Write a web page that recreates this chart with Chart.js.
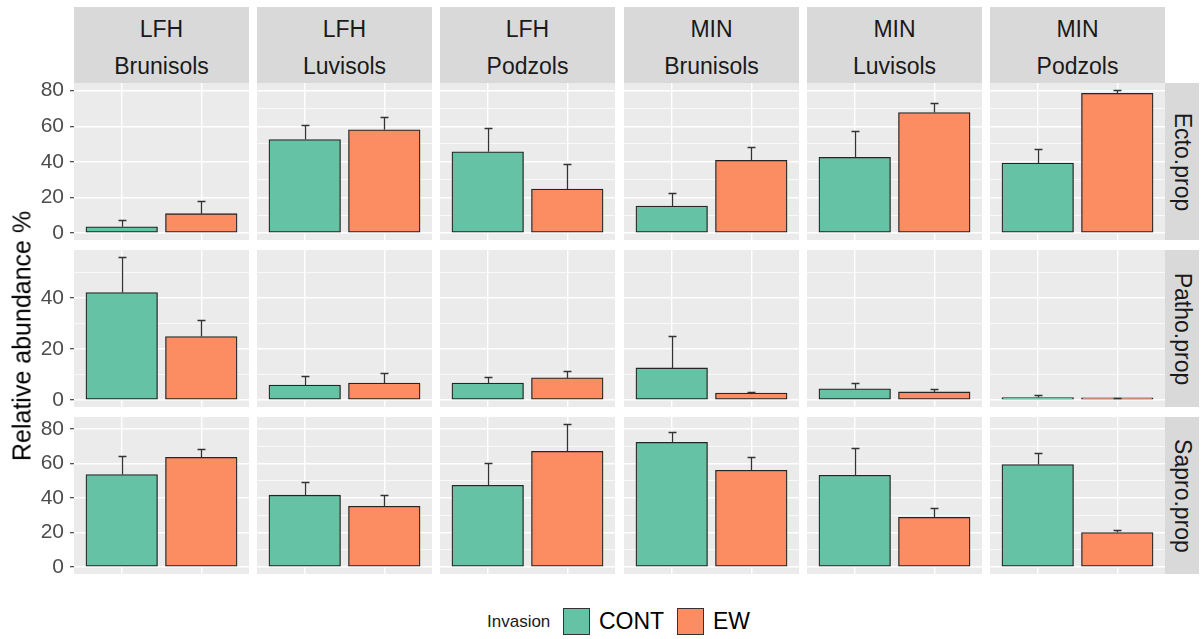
<!DOCTYPE html>
<html>
<head>
<meta charset="utf-8">
<script src="https://cdn.jsdelivr.net/npm/chart.js@4/dist/chart.umd.min.js"></script>
<style>
  body { margin: 0; width: 1201px; height: 639px; overflow: hidden; position: relative; background: #fff;
         font-family: "Liberation Sans", Arial, sans-serif; }
  .abs { position: absolute; }
  .strip { position: absolute; background: #d9d9d9; color: #1a1a1a; font-size: 23px; }
  .strip .ln { position: absolute; left: 0; right: 0; height: 36px; line-height: 36px; text-align: center; white-space: nowrap; }
  .rot { position: absolute; left: 50%; top: 50%; white-space: nowrap; transform: translate(-50%, -50%) rotate(90deg); }
  .key { position: absolute; width: 25px; height: 25px; border: 1px solid #333; }
</style>
</head>
<body>
<script>
// ── data ──
const horizons = ["LFH", "LFH", "LFH", "MIN", "MIN", "MIN"];
const soils = ["Brunisols", "Luvisols", "Podzols", "Brunisols", "Luvisols", "Podzols"];
const guilds = ["Ecto.prop", "Patho.prop", "Sapro.prop"];
const invasion = ["CONT", "EW"];

// bar heights (mean) and top of the error bar (mean + se), one value per soil panel
const ectoCont = [3.4, 52.5, 45.6, 15.1, 42.5, 39.3];
const ectoContTop = [7.0, 60.5, 59.2, 22.5, 57.1, 46.9];
const ectoEw = [10.8, 58.0, 24.7, 40.8, 67.7, 78.5];
const ectoEwTop = [18.0, 65.0, 38.5, 48.2, 73.3, 80.2];

const pathoCont = [42.0, 5.8, 6.6, 12.5, 4.3, 0.9];
const pathoContTop = [55.8, 9.3, 9.0, 24.9, 6.6, 1.9];
const pathoEw = [24.8, 6.6, 8.6, 2.7, 3.1, 0.3];
const pathoEwTop = [31.2, 10.5, 11.3, 3.1, 4.3, 0.6];

const saproCont = [53.6, 41.6, 47.4, 72.3, 53.2, 59.4];
const saproContTop = [64.3, 49.1, 60.1, 78.1, 68.8, 65.9];
const saproEw = [63.6, 35.2, 67.1, 56.1, 28.8, 19.9];
const saproEwTop = [68.6, 41.6, 82.7, 63.6, 34.0, 21.4];

// y axis per row (free scales)
const yMin = [-4.0, -2.8, -4.15];
const yMax = [84.3, 58.7, 87.0];
const yTicksEcto = [0, 20, 40, 60, 80];
const yTicksPatho = [0, 20, 40];
const yTicksSapro = [0, 20, 40, 60, 80];
const yMinorEcto = [10, 30, 50, 70];
const yMinorPatho = [10, 30, 50];
const yMinorSapro = [10, 30, 50, 70];

// ── layout ──
const colors = ["#66C2A5", "#FC8D62"];
const FONT = '"Liberation Sans", Arial, sans-serif';
const panelLeft = [74, 257, 440, 624, 807, 990];
const panelTop = [83, 250, 417];
const PW = 175, PH = 157, AXIS_W = 40, MARGIN = 12;
const X_MIN = 0.4, X_MAX = 2.6, BAR_W = 0.9;

const rows = [
  { cont: ectoCont, contTop: ectoContTop, ew: ectoEw, ewTop: ectoEwTop, ticks: yTicksEcto, minor: yMinorEcto },
  { cont: pathoCont, contTop: pathoContTop, ew: pathoEw, ewTop: pathoEwTop, ticks: yTicksPatho, minor: yMinorPatho },
  { cont: saproCont, contTop: saproContTop, ew: saproEw, ewTop: saproEwTop, ticks: yTicksSapro, minor: yMinorSapro },
];

// grey panel background
const panelBg = {
  id: "panelBg",
  beforeDraw(chart) {
    const a = chart.chartArea;
    chart.ctx.save();
    chart.ctx.fillStyle = "#EBEBEB";
    chart.ctx.fillRect(a.left, a.top, a.right - a.left, a.bottom - a.top);
    chart.ctx.restore();
  },
};

// upper error bars, drawn through the chart scales
const errBars = {
  id: "errBars",
  afterDatasetsDraw(chart, args, opts) {
    const { ctx } = chart;
    const x = chart.scales.x, y = chart.scales.y;
    const hw = x.getPixelForValue(1.05) - x.getPixelForValue(1);
    ctx.save();
    ctx.strokeStyle = "#333";
    ctx.lineWidth = 1.3;
    opts.means.forEach((m, i) => {
      const px = Math.round(x.getPixelForValue(i + 1)) + 0.5;
      const y0 = y.getPixelForValue(m);
      const y1 = Math.round(y.getPixelForValue(opts.tops[i])) + 0.5;
      ctx.beginPath();
      ctx.moveTo(px, y0);
      ctx.lineTo(px, y1);
      ctx.moveTo(px - hw, y1);
      ctx.lineTo(px + hw, y1);
      ctx.stroke();
    });
    ctx.restore();
  },
};

function addDiv(cls, style, html) {
  const d = document.createElement("div");
  d.className = cls;
  Object.assign(d.style, style);
  if (html !== undefined) d.innerHTML = html;
  document.body.appendChild(d);
  return d;
}

function makePanel(r, c) {
  const row = rows[r];
  const left = c === 0;
  const cv = document.createElement("canvas");
  const w = PW + (left ? AXIS_W : 0);
  const h = PH + 2 * MARGIN;
  cv.width = w;
  cv.height = h;
  cv.style.position = "absolute";
  cv.style.left = (panelLeft[c] - (left ? AXIS_W : 0)) + "px";
  cv.style.top = (panelTop[r] - MARGIN) + "px";
  cv.style.width = w + "px";
  cv.style.height = h + "px";
  document.body.appendChild(cv);

  const grid = [...row.ticks, ...row.minor].sort((a, b) => a - b);
  const isMajor = (v) => row.ticks.includes(v);

  new Chart(cv, {
    type: "bar",
    data: {
      datasets: [{
        data: [{ x: 1, y: row.cont[c] }, { x: 2, y: row.ew[c] }],
        backgroundColor: colors,
        borderColor: "#262626",
        borderWidth: 1.3,
        borderSkipped: false,
        minBarLength: 2,
        // bar width of 0.9 x-units, like geom_bar
        barThickness: BAR_W * PW / (X_MAX - X_MIN),
      }],
    },
    options: {
      responsive: false,
      animation: false,
      events: [],
      layout: { padding: { top: MARGIN, bottom: MARGIN, left: 0, right: 0 } },
      plugins: {
        legend: { display: false },
        tooltip: { enabled: false },
        errBars: { means: [row.cont[c], row.ew[c]], tops: [row.contTop[c], row.ewTop[c]] },
      },
      scales: {
        x: {
          type: "linear",
          min: X_MIN,
          max: X_MAX,
          offset: false,
          afterBuildTicks: (s) => { s.ticks = [{ value: 1 }, { value: 2 }]; },
          ticks: { display: false },
          grid: { color: "#ffffff", lineWidth: 1.4, drawTicks: false, offset: false },
          border: { display: false },
        },
        y: {
          min: yMin[r],
          max: yMax[r],
          afterBuildTicks: (s) => { s.ticks = grid.map((v) => ({ value: v })); },
          afterFit: (s) => {
            s.width = left ? AXIS_W : 0;
            s.paddingTop = 0; s.paddingBottom = 0;
          },
          ticks: {
            display: left,
            padding: 6,
            color: "#4D4D4D",
            font: { family: FONT, size: 21 },
            callback: (v) => (isMajor(v) ? v : ""),
          },
          grid: {
            color: "#ffffff",
            lineWidth: (ctx) => (ctx.tick && isMajor(ctx.tick.value) ? 1.4 : 0.7),
            drawTicks: left,
            tickLength: 4,
            tickWidth: 1.1,
            tickColor: (ctx) => (ctx.tick && isMajor(ctx.tick.value) ? "#333333" : "rgba(0,0,0,0)"),
          },
          border: { display: false },
        },
      },
    },
    plugins: [panelBg, errBars],
  });
}

// top strips
for (let c = 0; c < 6; c++) {
  const s = addDiv("strip", { left: panelLeft[c] + "px", top: "7px", width: PW + "px", height: "76px" });
  const l1 = document.createElement("div");
  l1.className = "ln"; l1.style.top = "4px"; l1.textContent = horizons[c];
  const l2 = document.createElement("div");
  l2.className = "ln"; l2.style.top = "41px"; l2.textContent = soils[c];
  s.appendChild(l1); s.appendChild(l2);
}

// right strips
for (let r = 0; r < 3; r++) {
  const s = addDiv("strip", { left: "1165px", top: panelTop[r] + "px", width: "34px", height: PH + "px" });
  const t = document.createElement("div");
  t.className = "rot"; t.textContent = guilds[r];
  s.appendChild(t);
}

for (let r = 0; r < 3; r++) for (let c = 0; c < 6; c++) makePanel(r, c);

// axis title
addDiv("abs", { left: "22px", top: "336px", fontSize: "25px", color: "#000", whiteSpace: "nowrap",
  transform: "translate(-50%, -50%) rotate(-90deg)" }, "Relative abundance %");

// legend
addDiv("abs", { left: "487px", top: "609px", height: "26px", lineHeight: "26px", fontSize: "17px", color: "#1a1a1a" }, "Invasion");
addDiv("key", { left: "563px", top: "608px", background: colors[0] });
addDiv("abs", { left: "599px", top: "607px", height: "28px", lineHeight: "28px", fontSize: "23px", color: "#000" }, invasion[0]);
addDiv("key", { left: "677px", top: "608px", background: colors[1] });
addDiv("abs", { left: "713px", top: "607px", height: "28px", lineHeight: "28px", fontSize: "23px", color: "#000" }, invasion[1]);
</script>
</body>
</html>
